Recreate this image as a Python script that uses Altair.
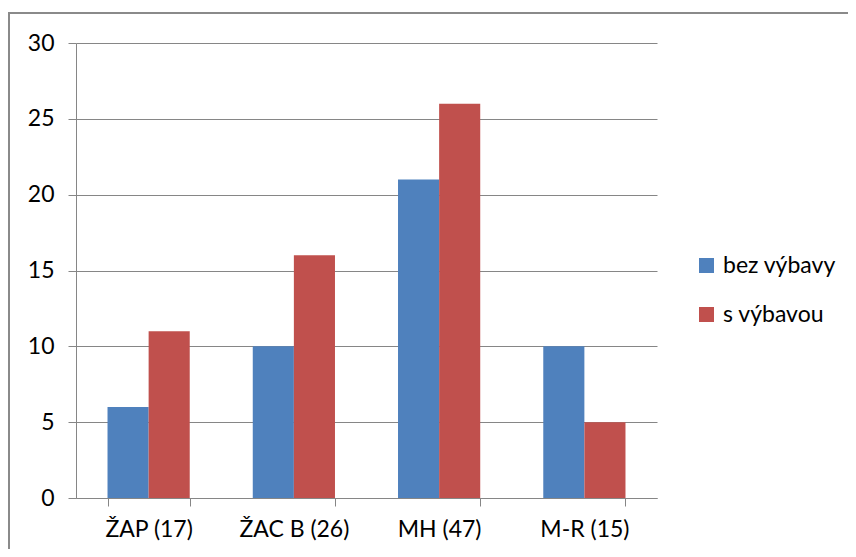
import altair as alt
import pandas as pd

categories = ["ŽAP (17)", "ŽAC B (26)", "MH (47)", "M-R (15)"]
series = ["bez výbavy", "s výbavou"]
bez_vybavy = [6, 10, 21, 10]
s_vybavou = [11, 16, 26, 5]
colors = ["#4F81BD", "#C0504D"]

rows = []
for c, a, b in zip(categories, bez_vybavy, s_vybavou):
    rows.append({"cat": c, "series": series[0], "value": a})
    rows.append({"cat": c, "series": series[1], "value": b})
df = pd.DataFrame(rows)

FONT = "Lato"
GRID = "#868686"

bars = alt.Chart(df).mark_bar().encode(
    x=alt.X("cat:N", sort=categories, title=None,
            scale=alt.Scale(paddingInner=0.434, paddingOuter=0.217),
            axis=alt.Axis(labelAngle=0, tickBand="extent", tickSize=8,
                          tickColor=GRID, domainColor=GRID, labelPadding=12,
                          labelFontSize=23, labelFont=FONT, labelColor="#000000")),
    xOffset=alt.XOffset("series:N", sort=series, scale=alt.Scale(paddingInner=0, paddingOuter=0)),
    y=alt.Y("value:Q", title=None,
            scale=alt.Scale(domain=[0, 30], nice=False),
            axis=alt.Axis(values=[0, 5, 10, 15, 20, 25, 30], grid=True, gridColor=GRID,
                          tickSize=8, tickColor=GRID, domainColor=GRID,
                          labelPadding=14, labelFontSize=23, labelFont=FONT,
                          labelColor="#000000")),
    color=alt.Color("series:N", sort=series,
                    scale=alt.Scale(domain=series, range=colors),
                    legend=alt.Legend(title=None, orient="none", legendX=619, legendY=211,
                                      symbolType="square", symbolSize=225,
                                      symbolStrokeWidth=0, labelFontSize=23,
                                      labelFont=FONT, labelColor="#000000",
                                      rowPadding=25, labelOffset=5)),
)

border = alt.Chart(alt.Data(values=[{"a": 1}])).mark_rect(
    fill=None, stroke="#8a8a8a", strokeWidth=2, clip=False
).encode(
    x=alt.value(-67), x2=alt.value(820), y=alt.value(-30), y2=alt.value(600)
)

chart = alt.layer(bars, border).properties(
    width=581, height=455,
    autosize=alt.AutoSizeParams(type="none"),
    padding={"left": 68, "top": 35, "right": 191, "bottom": 51},
).configure_view(stroke=None).configure_axis(domainWidth=1, gridWidth=1, tickWidth=1)

chart.save("out.html", embed_options={"renderer": "svg", "actions": False})
